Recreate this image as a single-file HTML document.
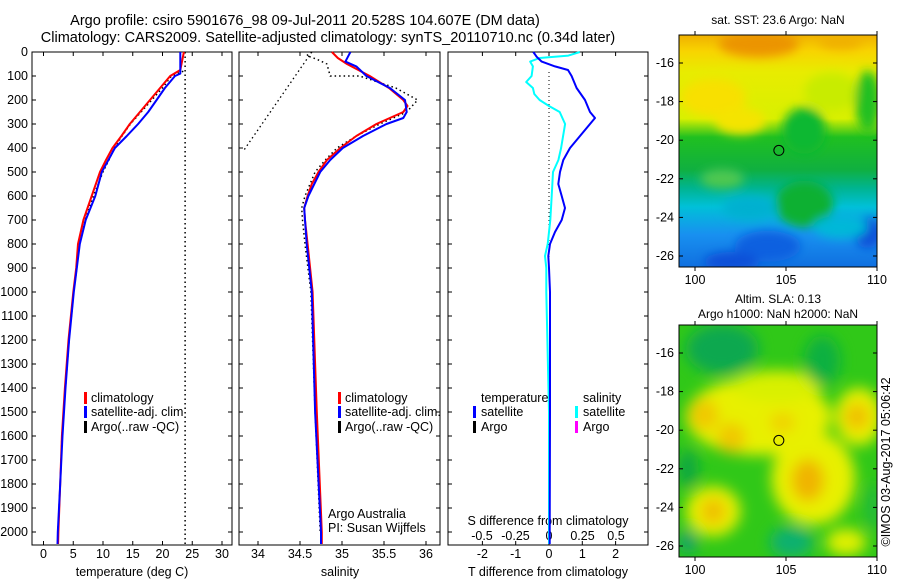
<!DOCTYPE html>
<html><head><meta charset="utf-8"><style>
html,body{margin:0;padding:0;background:#fff;}
svg{display:block;font-family:"Liberation Sans",sans-serif;}
</style></head><body>
<svg id="chart" width="900" height="580" viewBox="0 0 900 580" xmlns="http://www.w3.org/2000/svg">
<defs>
<filter id="blur1" x="-20%" y="-20%" width="140%" height="140%"><feGaussianBlur stdDeviation="5"/></filter>
<filter id="blur2" x="-20%" y="-20%" width="140%" height="140%"><feGaussianBlur stdDeviation="7"/></filter>
<clipPath id="clipMap1"><rect x="679" y="35" width="198" height="232"/></clipPath>
<clipPath id="clipMap2"><rect x="679" y="325" width="198" height="232"/></clipPath>
<linearGradient id="sstGrad" x1="0" y1="0" x2="0" y2="1">
<stop offset="0" stop-color="#f0b000"/><stop offset="0.07" stop-color="#f8d400"/>
<stop offset="0.16" stop-color="#e8ec00"/><stop offset="0.36" stop-color="#d8f000"/>
<stop offset="0.44" stop-color="#20c020"/><stop offset="0.58" stop-color="#10b040"/>
<stop offset="0.66" stop-color="#00b490"/><stop offset="0.74" stop-color="#00c0d8"/>
<stop offset="0.86" stop-color="#1890f0"/><stop offset="1" stop-color="#1070e0"/>
</linearGradient>
</defs>
<g id="title" font-size="14.5" text-anchor="middle">
<text x="305" y="25">Argo profile: csiro 5901676_98 09-Jul-2011 20.528S 104.607E (DM data)</text>
<text x="328" y="42">Climatology: CARS2009. Satellite-adjusted climatology: synTS_20110710.nc (0.34d later)</text>
</g>
<g id="panels"></g>
<g id="maps"></g>
<text transform="translate(890,462) rotate(-90)" text-anchor="middle" font-size="12.5">©IMOS 03-Aug-2017 05:06:42</text>
</svg>
<script>
// ---- data ----
const depthTicks = [0,100,200,300,400,500,600,700,800,900,1000,1100,1200,1300,1400,1500,1600,1700,1800,1900,2000];
const tempTicks = [0,5,10,15,20,25,30];
const salTicks = [34,34.5,35,35.5,36];
const salTickLabels = ["34","34.5","35","35.5","36"];
const tdiffTicks = [-2,-1,0,1,2];
const sdiffTicks = [-0.5,-0.25,0,0.25,0.5];
const sdiffTickLabels = ["-0.5","-0.25","0","0.25","0.5"];

const climDepth = [0,75,100,150,200,250,300,350,400,450,500,600,700,800,900,1000,1200,1400,1600,1800,2000,2050];
const climTemp  = [23.6,23.0,21.3,19.6,17.9,16.2,14.5,13.1,11.6,10.5,9.5,8.1,6.7,5.8,5.5,5.0,4.2,3.6,3.1,2.8,2.5,2.45];
const satDepth  = [0,75,90,100,150,200,250,300,350,400,450,500,600,700,800,900,1000,1200,1400,1600,1800,2000,2050];
const satTemp   = [23.0,23.0,23.0,22.1,20.4,19.0,17.6,15.9,14.0,12.0,10.9,9.8,8.7,7.1,6.1,5.6,5.1,4.3,3.7,3.2,2.8,2.4,2.35];
const argoTDepth = [80,100,150,200,250,300,350,400,450,500,600,700,800,900,1000,1200,1400,1600,1800,2000];
const argoTemp   = [23.5,21.5,20.0,18.2,16.4,14.6,13.2,11.9,11.0,10.0,8.4,7.0,6.0,5.6,5.1,4.3,3.7,3.1,2.8,2.4];
const sstLine = 23.8;

const climSalDepth = [0,25,50,100,150,200,225,250,300,350,400,450,500,550,600,650,700,800,900,1000,1500,2000,2050];
const climSal = [34.88,34.95,35.06,35.33,35.56,35.73,35.78,35.73,35.41,35.17,34.98,34.82,34.72,34.64,34.59,34.55,34.56,34.59,34.62,34.65,34.70,34.76,34.76];
const satSalDepth = [0,20,40,60,100,150,200,250,275,300,350,400,450,500,600,650,700,800,1000,1500,2000,2050];
const satSal = [35.10,35.07,35.04,35.17,35.29,35.57,35.75,35.77,35.73,35.53,35.25,35.01,34.86,34.74,34.60,34.55,34.56,34.58,34.64,34.68,34.75,34.75];
const argoSalDepth = [0,15,30,50,100,100,150,200,250,300,350,400,450,500,600,650,700,800,1000,1500,2000];
const argoSal = [34.64,34.58,34.70,34.82,34.86,35.21,35.64,35.90,35.77,35.45,35.17,34.94,34.80,34.68,34.56,34.52,34.53,34.56,34.63,34.68,34.74];
const argoRawSalDepth = [0,415];
const argoRawSal = [34.64,33.82];

const tdiffDepth = [0,20,40,60,75,100,150,200,250,275,300,350,400,450,500,550,600,650,700,750,800,850,900,1000,1500,2000,2050];
const tdiff = [-0.47,-0.37,-0.22,0.18,0.57,0.68,0.83,1.08,1.23,1.38,1.23,0.93,0.63,0.43,0.33,0.28,0.38,0.48,0.38,0.18,0.03,-0.02,0.0,0.03,0.03,0.02,0.02];
const sdiffDepth = [0,15,25,40,60,100,125,150,175,200,225,250,275,300,400,450,500,600,700,800,850,900,1000,1500,2000,2050];
const sdiff = [0.23,0.145,-0.07,-0.14,-0.12,-0.13,-0.17,-0.12,-0.11,-0.07,0.0,0.08,0.10,0.12,0.09,0.07,0.03,0.02,0.01,-0.01,-0.03,-0.02,-0.02,0.0,0.0,0.0];

// ---- axes ----
const NS = "http://www.w3.org/2000/svg";
const TOP = 52, BOT = 545;
const yD = d => TOP + d * 0.24;
const xT = t => 43.5 + t * 5.95;
const xS = s => 258 + (s - 34) * 84;
const xTd = v => 549 + v * 33.3;
const xSd = v => 549 + v * 134;
const P1 = [32,232], P2 = [239,440], P3 = [448,648];

function mk(tag, attrs, parent) {
  const e = document.createElementNS(NS, tag);
  for (const k in attrs) e.setAttribute(k, attrs[k]);
  parent.appendChild(e);
  return e;
}
const panels = document.getElementById('panels');

function frame(p, name) {
  const g = mk('g', {}, panels);
  
  
  const r = mk('rect', {x:p[0], y:TOP, width:p[1]-p[0], height:BOT-TOP, fill:'none', stroke:'#000', 'stroke-width':1}, g);
  
  
  depthTicks.forEach(d => {
    mk('line', {x1:p[0], x2:p[0]+4, y1:yD(d), y2:yD(d), stroke:'#000'}, g);
    mk('line', {x1:p[1]-4, x2:p[1], y1:yD(d), y2:yD(d), stroke:'#000'}, g);
  });
  return g;
}
function xticks(g, vals, labels, fx, p, ly, name) {
  vals.forEach((v, i) => {
    const x = fx(v);
    mk('line', {x1:x, x2:x, y1:TOP, y2:TOP+4, stroke:'#000'}, g);
    mk('line', {x1:x, x2:x, y1:BOT-4, y2:BOT, stroke:'#000'}, g);
    const t = mk('text', {x:x, y:ly, 'text-anchor':'middle', 'font-size':12.5}, g);
    t.textContent = labels[i];
    
    
  });
}
function line(g, xs, ds, fx, color, w, dash, name) {
  const pts = xs.map((v, i) => fx(v).toFixed(1) + ',' + yD(ds[i]).toFixed(1)).join(' ');
  const a = {points:pts, fill:'none', stroke:color, 'stroke-width':w, 'stroke-linejoin':'round'};
  if (dash) a['stroke-dasharray'] = dash;
  const pl = mk('polyline', a, g);
  
  
}
function text(g, x, y, s, name, size, anchor) {
  const t = mk('text', {x:x, y:y, 'font-size':size||12.5, 'text-anchor':anchor||'start'}, g);
  t.textContent = s;
  
  
  return t;
}
function legendMark(g, x, y, color, name) {
  const r = mk('rect', {x:x, y:y-10, width:3, height:12, fill:color}, g);
  
  
}

// panel 1
const g1 = frame(P1, 'temperature-panel');
depthTicks.forEach(d => {
  text(g1, 28, yD(d)+4, String(d), 'depth-tick-label', 12.5, 'end');
});
xticks(g1, tempTicks, tempTicks.map(String), xT, P1, 558, 'temperature');
text(g1, 132, 576, 'temperature (deg C)', 'temperature-axis-title', 12.5, 'middle');
const sl = mk('line', {x1:xT(sstLine), x2:xT(sstLine), y1:TOP, y2:BOT, stroke:'#000', 'stroke-width':1.5, 'stroke-dasharray':'1.5,3'}, g1);


line(g1, argoTemp, argoTDepth, xT, '#000', 1.5, '1.5,3', 'argo-temperature-line');
line(g1, climTemp, climDepth, xT, '#ff0000', 2, null, 'climatology-temperature-line');
line(g1, satTemp, satDepth, xT, '#0000ff', 2, null, 'satellite-temperature-line');
legendMark(g1, 84, 402, '#ff0000', 'legend-climatology-mark');
text(g1, 91, 402, 'climatology', 'legend-climatology');
legendMark(g1, 84, 416, '#0000ff', 'legend-satellite-mark');
text(g1, 91, 416, 'satellite-adj. clim', 'legend-satellite');
legendMark(g1, 84, 431, '#000', 'legend-argo-mark');
text(g1, 91, 431, 'Argo(..raw -QC)', 'legend-argo');

// panel 2
const g2 = frame(P2, 'salinity-panel');
xticks(g2, salTicks, salTickLabels, xS, P2, 558, 'salinity');
text(g2, 340, 576, 'salinity', 'salinity-axis-title', 12.5, 'middle');
line(g2, argoRawSal, argoRawSalDepth, xS, '#000', 1.3, '1.5,3', 'argo-raw-salinity-line');
line(g2, argoSal, argoSalDepth, xS, '#000', 1.5, '1.5,3', 'argo-salinity-line');
line(g2, climSal, climSalDepth, xS, '#ff0000', 2, null, 'climatology-salinity-line');
line(g2, satSal, satSalDepth, xS, '#0000ff', 2, null, 'satellite-salinity-line');
legendMark(g2, 338, 402, '#ff0000', 'legend-climatology-mark');
text(g2, 345, 402, 'climatology', 'legend-climatology');
legendMark(g2, 338, 416, '#0000ff', 'legend-satellite-mark');
text(g2, 345, 416, 'satellite-adj. clim.', 'legend-satellite');
legendMark(g2, 338, 431, '#000', 'legend-argo-mark');
text(g2, 345, 431, 'Argo(..raw -QC)', 'legend-argo');
text(g2, 328, 518, 'Argo Australia', 'credit-argo-australia');
text(g2, 328, 532, 'PI: Susan Wijffels', 'credit-pi');

// panel 3
const g3 = frame(P3, 'difference-panel');
xticks(g3, tdiffTicks, tdiffTicks.map(String), xTd, P3, 558, 'tdiff');
sdiffTicks.forEach((v, i) => {
  text(g3, xSd(v), 540, sdiffTickLabels[i], 'sdiff-tick-label', 12.5, 'middle');
});
text(g3, 548, 525, 'S difference from climatology', 'sdiff-axis-title', 12.5, 'middle');
text(g3, 548, 576, 'T difference from climatology', 'tdiff-axis-title', 12.5, 'middle');
const zl = mk('line', {x1:xTd(0), x2:xTd(0), y1:TOP+20, y2:yD(900), stroke:'#000', 'stroke-width':1, 'stroke-dasharray':'1,3'}, g3);


line(g3, sdiff, sdiffDepth, xSd, '#00ffff', 2, null, 'salinity-difference-line');
line(g3, tdiff, tdiffDepth, xTd, '#0000ff', 2, null, 'temperature-difference-line');
text(g3, 481, 402, 'temperature', 'legend-temperature-header');
text(g3, 583, 402, 'salinity', 'legend-salinity-header');
legendMark(g3, 473, 416, '#0000ff', 'legend-t-satellite-mark');
text(g3, 481, 416, 'satellite', 'legend-t-satellite');
legendMark(g3, 473, 431, '#000', 'legend-t-argo-mark');
text(g3, 481, 431, 'Argo', 'legend-t-argo');
legendMark(g3, 575, 416, '#00ffff', 'legend-s-satellite-mark');
text(g3, 583, 416, 'satellite', 'legend-s-satellite');
legendMark(g3, 575, 431, '#ff00ff', 'legend-s-argo-mark');
text(g3, 583, 431, 'Argo', 'legend-s-argo');

// ---- maps ----
const mapLatTicks = [-16,-18,-20,-22,-24,-26];
const mapLonTicks = [100,105,110];
const argoLon = 104.607, argoLat = -20.528;
const sstBlobs = [ // lon, lat, rx(deg), ry(deg), color
  [103.5,-15.0,2.2,0.7,'#ec9400'],[108,-14.9,1.2,0.4,'#f0b000'],
  [101,-17.8,1.8,1.0,'#f8e000'],[102.5,-19,1.4,0.7,'#f4e400'],
  [107.5,-17.5,1.5,1.0,'#c8ec00'],[109.5,-18,0.7,1.6,'#20c020'],[106,-19.5,1.2,1.2,'#10b830'],
  [106,-23.3,1.6,1.2,'#10b030'],[101.5,-22,1.2,0.5,'#50c850'],
  [104,-25.5,1.8,0.8,'#1060e0'],[109.5,-24.8,0.8,0.8,'#0850d8'],[102,-26.3,1.5,0.5,'#1050d8'],
  [108,-24.5,1.5,0.6,'#00b8d8'],[103,-23.5,1.5,0.6,'#00b0d0']
];
const slaBlobs = [
  [103.5,-19.3,4,2.0,'#e8f000'],[106.5,-22.5,2.3,2.4,'#e8f000'],[101,-24.2,1.5,1.3,'#e8f000'],
  [109,-19.3,1.3,1.5,'#e8f000'],[108.3,-25.8,1.1,0.7,'#e0f000'],[104.5,-17.7,2.5,0.8,'#d8f000'],
  [100.5,-19.2,0.8,0.8,'#f0c800'],[102,-20.4,0.8,0.8,'#f0c800'],[106.2,-22.6,0.9,1.1,'#f0b400'],
  [108.9,-19.3,0.7,0.7,'#f0c000'],[101,-24.2,0.7,0.7,'#f0c000'],[104.8,-19.6,0.7,0.5,'#f0d000'],
  [101.5,-15.8,2,1.3,'#10a850'],[107,-16.4,1,1.3,'#10b040'],[99.6,-22,0.6,1,'#10a840'],
  [105.3,-25.8,1.2,0.8,'#10b070'],[99.6,-25.8,0.5,0.6,'#10a070'],[109.8,-24,0.4,1.2,'#20b840']
];
const maps = document.getElementById('maps');
function drawMap(y0, name, titles, base, blobs, blurId) {
  const X0 = 679, W = 198, H = 232;
  const mx = lon => 695 + (lon - 100) * 18.2;
  const my = lat => y0 + 28 + (-16 - lat) * 19.3;
  const g = mk('g', {}, maps);
  
  
  const inner = mk('g', {'clip-path':'url(#' + (y0 < 100 ? 'clipMap1' : 'clipMap2') + ')'}, g);
  mk('rect', {x:X0, y:y0, width:W, height:H, fill:base}, inner);
  const bg = mk('g', {filter:'url(#' + blurId + ')'}, inner);
  blobs.forEach(b => {
    const e = mk('ellipse', {cx:mx(b[0]), cy:my(b[1]), rx:b[2]*18.2, ry:b[3]*19.3, fill:b[4]}, bg);
    
    
  });
  mk('rect', {x:X0, y:y0, width:W, height:H, fill:'none', stroke:'#000', 'stroke-width':1}, g);
  mapLatTicks.forEach(l => {
    const y = my(l);
    mk('line', {x1:X0, x2:X0+4, y1:y, y2:y, stroke:'#000'}, g);
    mk('line', {x1:X0+W-4, x2:X0+W, y1:y, y2:y, stroke:'#000'}, g);
    text(g, 674, y+4, String(l), name + '-lat-label', 12.5, 'end');
  });
  mapLonTicks.forEach(l => {
    const x = mx(l);
    mk('line', {x1:x, x2:x, y1:y0, y2:y0-4, stroke:'#000'}, g);
    mk('line', {x1:x, x2:x, y1:y0+H, y2:y0+H+4, stroke:'#000'}, g);
    text(g, x, y0+H+17, String(l), name + '-lon-label', 12.5, 'middle');
  });
  const c = mk('circle', {cx:mx(argoLon), cy:my(argoLat), r:5, fill:'none', stroke:'#000', 'stroke-width':1}, g);
  
  
  titles.forEach((t, i) => text(g, 778, titles.length === 1 ? y0 - 11 : y0 - 22 + i * 15, t, name + '-title', 12, 'middle'));
}
drawMap(35, 'sst-map', ['sat. SST: 23.6 Argo: NaN'], 'url(#sstGrad)', sstBlobs, 'blur1');
drawMap(325, 'sla-map', ['Altim. SLA: 0.13', 'Argo h1000: NaN h2000: NaN'], '#30c818', slaBlobs, 'blur2');
</script>
</body></html>
